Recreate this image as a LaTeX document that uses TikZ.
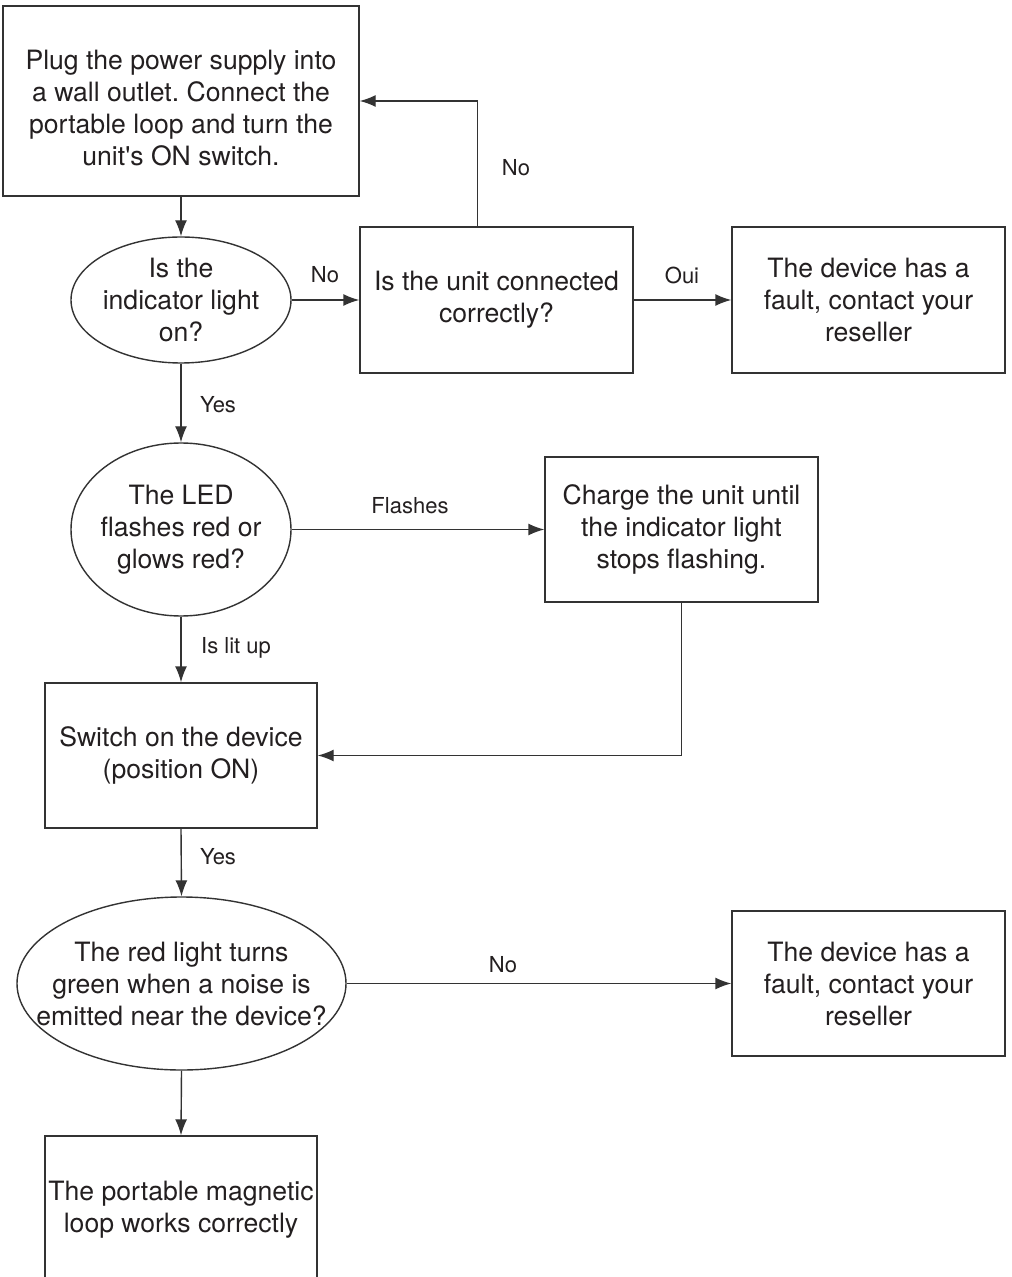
\documentclass[tikz,border=0pt]{standalone}
\usepackage{fontspec}
\setmainfont{TeX Gyre Heros}
\usetikzlibrary{shapes.geometric,arrows.meta}
\definecolor{linecol}{HTML}{333333}
\definecolor{txtcol}{HTML}{231F20}
\frenchspacing
\begin{document}
\begin{tikzpicture}[x=0.5pt,y=-0.5pt,
  line/.style={draw=linecol, line width=0.7pt},
  arr/.style={line, -{Latex[length=8pt,width=6pt]}},
  txt/.style={font=\fontsize{13.3}{16}\selectfont, text=txtcol, align=center, inner sep=0pt},
  lbl/.style={font=\fontsize{11}{13}\selectfont, text=txtcol, inner sep=0pt},
  proc/.style={draw=linecol, line width=0.7pt, rectangle, inner sep=0pt},
  dec/.style={draw=linecol, line width=0.7pt, ellipse, inner sep=0pt}]
\useasboundingbox[fill=white] (0,0) rectangle (1011,1277);

\node[proc, minimum width=178pt, minimum height=95pt,
  label={[txt,yshift=-3.5pt]center:{Plug the power supply into\\a wall outlet. Connect the\\portable loop and turn the\\unit\textquotesingle s ON switch.}}] (b1) at (181,101) {};
\node[dec, minimum width=110pt, minimum height=63pt,
  label={[txt]center:{Is the\\indicator light\\on?}}] (e1) at (181,300) {};
\node[proc, minimum width=136.5pt, minimum height=73pt,
  label={[txt]center:{Is the unit connected\\correctly?}}] (b2) at (496.5,300) {};
\node[proc, minimum width=136.5pt, minimum height=73pt,
  label={[txt]center:{The device has a\\fault, contact your\\reseller}}] (b3) at (868.5,300) {};
\node[dec, minimum width=110pt, minimum height=86.5pt,
  label={[txt]center:{The LED\\flashes red or\\glows red?}}] (e2) at (181,529.5) {};
\node[proc, minimum width=136.5pt, minimum height=72.5pt,
  label={[txt]center:{Charge the unit until\\the indicator light\\stops flashing.}}] (b4) at (681.5,529.5) {};
\node[proc, minimum width=136pt, minimum height=72.5pt,
  label={[txt]center:{Switch on the device\\(position ON)}}] (b5) at (181,755.5) {};
\node[dec, minimum width=164.5pt, minimum height=86.5pt,
  label={[txt]center:{The red light turns\\green when a noise is\\emitted near the device?}}] (e3) at (181.5,983.5) {};
\node[proc, minimum width=136.5pt, minimum height=72.5pt,
  label={[txt]center:{The device has a\\fault, contact your\\reseller}}] (b6) at (868.5,983.5) {};
\node[proc, minimum width=136pt, minimum height=74pt,
  label={[txt]center:{The portable magnetic\\loop works correctly}}] (b7) at (181,1210) {};

\coordinate (b2up) at ([xshift=59pt]b2.north west);

\draw[arr] (b1.south) -- (e1.north);
\draw[arr] (e1.east) -- (b2.west);
\draw[arr] (b2.east) -- (b3.west);
\draw[arr] (b2up) |- (b1.east);
\draw[arr] (e1.south) -- (e2.north);
\draw[arr] (e2.east) -- (b4.west);
\draw[arr] (e2.south) -- (b5.north);
\draw[arr] (b4.south) |- (b5.east);
\draw[arr] (b5.south) -- (e3.north);
\draw[arr] (e3.east) -- (b6.west);
\draw[arr] (e3.south) -- (b7.north);

\node[lbl] (lno1) at (325,275) {No};
\node[lbl] (lno2) at (516,168) {No};
\node[lbl] (loui) at (682,275) {Oui};
\node[lbl] (lyes1) at (218,405) {Yes};
\node[lbl] (lfl) at (410,506) {Flashes};
\node[lbl] (llit) at (236,648) {Is lit up};
\node[lbl] (lyes2) at (218,857) {Yes};
\node[lbl] (lno3) at (503,965) {No};
\end{tikzpicture}
\end{document}
